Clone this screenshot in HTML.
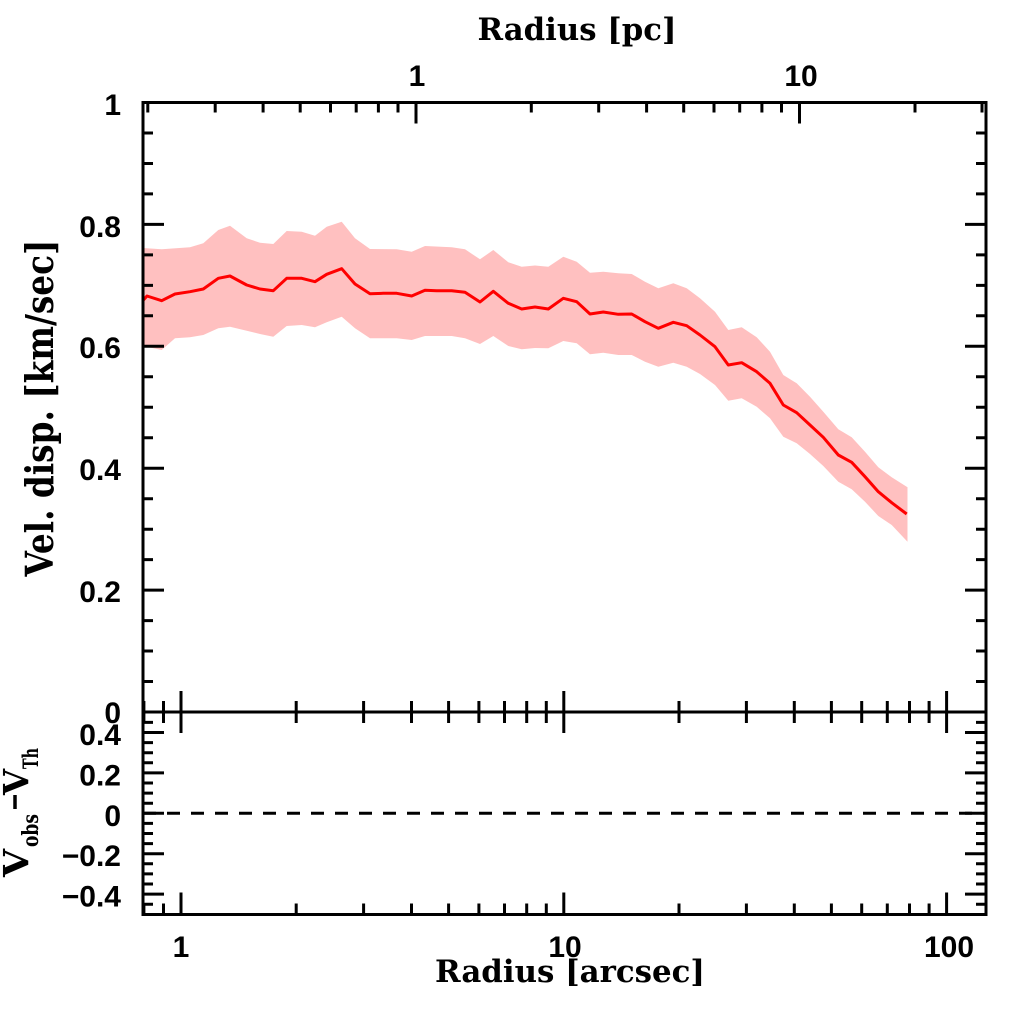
<!DOCTYPE html>
<html>
<head>
<meta charset="utf-8">
<style>
  html, body { margin: 0; padding: 0; background: #ffffff; }
  svg { display: block; }
  .num { font-family: "Liberation Sans", "DejaVu Sans", sans-serif; font-weight: bold; font-size: 30px; fill: #000; }
  .lab { font-family: "DejaVu Serif", "Liberation Serif", serif; font-weight: bold; fill: #000; }
</style>
</head>
<body>
<svg width="1024" height="1024" viewBox="0 0 1024 1024" xmlns="http://www.w3.org/2000/svg">
  <rect x="0" y="0" width="1024" height="1024" fill="#ffffff"/>

  <!-- error band -->
  <polygon fill="#ffc0c0" points="
143,248 146.7,248.3 161.7,249.3 190,247.3 203.3,243.3 218.3,230 230,225.7 246.7,238.3 260,242.7 273.3,244 286.7,231 301.7,231.7 315,235.7 326.7,226.7 341.7,221.7 355,238.3 370,249 396.7,249.3 411.7,251.7 425,246 451.7,247.3 465,249.3 480,259.3 493.3,250 508.3,262.3 521.7,266.7 535,265.5 548.3,266.7 563.3,256.7 576.7,261.7 590,272.7 603.3,271.7 618.3,273.3 631.7,274 645,281.7 658.3,288.3 673.3,283.3 686.7,288.3 700,298.3 715,311.7 728.3,330 741.7,327.3 756.7,337.3 770,351.7 783.3,375 796.7,383.3 810,396.7 823.3,411.7 838.3,429.3 851.7,437.3 865,451.7 878.3,467.3 891.7,477.3 907.5,487.3
907.5,541.7 891.7,525 878.3,516 865,501.7 851.7,489.3 838.3,481.7 823.3,466 810,454 796.7,443.3 783.3,436.7 770,418.3 756.7,406.7 741.7,398.3 728.3,400.7 715,385 700,374 686.7,366.7 673.3,362.7 658.3,366.7 645,361.7 631.7,355 618.3,355 603.3,352.7 590,354.3 576.7,343.3 563.3,341 548.3,348.3 535,348 521.7,349.3 508.3,346 493.3,336 480,344 465,338.3 451.7,336 425,336 411.7,340 396.7,338.3 370,338.3 355,328.3 341.7,316.7 326.7,322.3 315,327.3 301.7,325 286.7,326 273.3,336.7 260,334 246.7,330.7 230,326.7 218.3,328.3 203.3,335 190,337.3 175,338.3 161.7,350 146.7,346.7 143,346"/>

  <!-- data line -->
  <polyline fill="none" stroke="#ff0000" stroke-width="3" stroke-linejoin="round" points="
143,300.5 147,296 161.7,300.7 175,294 190,291.7 203.3,289 218.3,278.3 230,276 246.7,285 260,289 273.3,290.7 286.7,278.3 301.7,278.3 315,281.7 326.7,274.3 341.7,268.7 355,284 370,293.7 383.3,293.3 396.7,293.3 411.7,296 425,290.3 436.7,290.7 451.7,290.7 465,292.3 480,302 493.3,291.3 508.3,303.3 521.7,309 535,307 548.3,309 563.3,298.3 576.7,301.7 590,314 603.3,312 618.3,314.3 631.7,314 645,321.7 658.3,328.3 673.3,322.3 686.7,325.7 700,335 715,346.7 728.3,365 741.7,362.7 756.7,371.7 770,383.3 783.3,405 796.7,412.7 810,425 823.3,437.3 838.3,455 851.7,462.3 865,476.7 878.3,491.7 891.7,502.7 906.7,514"/>

  <!-- dashed zero line -->
  <line x1="143" y1="813.3" x2="986" y2="813.3" stroke="#000" stroke-width="3" stroke-dasharray="13 11"/>

  <!-- frames -->
  <g fill="none" stroke="#000" stroke-width="3">
    <rect x="143" y="102.5" width="843" height="812"/>
    <line x1="143" y1="712" x2="986" y2="712"/>
  </g>

  <!-- ticks -->
  <g stroke="#000" stroke-width="3" fill="none">
    <path d="M143 681.5h10 M143 651h10 M143 620.6h10 M143 559.6h10 M143 529.2h10 M143 498.7h10 M143 437.7h10 M143 407.3h10 M143 376.8h10 M143 315.8h10 M143 285.4h10 M143 254.9h10 M143 193.9h10 M143 163.5h10 M143 133h10"/>
    <path d="M986 681.5h-10 M986 651h-10 M986 620.6h-10 M986 559.6h-10 M986 529.2h-10 M986 498.7h-10 M986 437.7h-10 M986 407.3h-10 M986 376.8h-10 M986 315.8h-10 M986 285.4h-10 M986 254.9h-10 M986 193.9h-10 M986 163.5h-10 M986 133h-10"/>
    <path d="M143 712h21 M143 590.1h21 M143 468.2h21 M143 346.3h21 M143 224.4h21 M143 102.5h21"/>
    <path d="M986 712h-21 M986 590.1h-21 M986 468.2h-21 M986 346.3h-21 M986 224.4h-21 M986 102.5h-21"/>

    <path d="M143 722.4h10 M143 742.6h10 M143 752.7h10 M143 762.8h10 M143 783h10 M143 793.1h10 M143 803.2h10 M143 823.4h10 M143 833.5h10 M143 843.6h10 M143 863.8h10 M143 873.9h10 M143 884h10 M143 904.2h10"/>
    <path d="M986 722.4h-10 M986 742.6h-10 M986 752.7h-10 M986 762.8h-10 M986 783h-10 M986 793.1h-10 M986 803.2h-10 M986 823.4h-10 M986 833.5h-10 M986 843.6h-10 M986 863.8h-10 M986 873.9h-10 M986 884h-10 M986 904.2h-10"/>
    <path d="M143 732.5h21 M143 772.9h21 M143 813.3h21 M143 853.7h21 M143 894.1h21"/>
    <path d="M986 732.5h-21 M986 772.9h-21 M986 813.3h-21 M986 853.7h-21 M986 894.1h-21"/>

    <path d="M143.9 701v22 M163.5 701v22 M296.2 701v22 M363.6 701v22 M411.5 701v22 M448.6 701v22 M478.9 701v22 M504.5 701v22 M526.7 701v22 M546.3 701v22 M679 701v22 M746.4 701v22 M794.3 701v22 M831.4 701v22 M861.7 701v22 M887.3 701v22 M909.5 701v22 M929.1 701v22"/>
    <path d="M181 691v42 M563.8 691v42 M946.6 691v42"/>

    <path d="M143.9 914.5v-11 M163.5 914.5v-11 M296.2 914.5v-11 M363.6 914.5v-11 M411.5 914.5v-11 M448.6 914.5v-11 M478.9 914.5v-11 M504.5 914.5v-11 M526.7 914.5v-11 M546.3 914.5v-11 M679 914.5v-11 M746.4 914.5v-11 M794.3 914.5v-11 M831.4 914.5v-11 M861.7 914.5v-11 M887.3 914.5v-11 M909.5 914.5v-11 M929.1 914.5v-11"/>
    <path d="M181 914.5v-22 M563.8 914.5v-22 M946.6 914.5v-22"/>

    <path d="M147.8 102.5v10 M215.2 102.5v10 M263.1 102.5v10 M300.2 102.5v10 M330.5 102.5v10 M356.2 102.5v10 M378.4 102.5v10 M398 102.5v10 M531.3 102.5v10 M598.7 102.5v10 M646.6 102.5v10 M683.7 102.5v10 M714 102.5v10 M739.7 102.5v10 M761.9 102.5v10 M781.5 102.5v10 M915 102.5v10 M982 102.5v10"/>
    <path d="M416 102.5v21 M799.5 102.5v21"/>
  </g>

  <g class="num" text-anchor="end">
    <text x="121" y="115">1</text>
    <text x="121" y="237">0.8</text>
    <text x="121" y="358">0.6</text>
    <text x="121" y="480">0.4</text>
    <text x="121" y="602">0.2</text>
    <text x="121" y="723">0</text>
  </g>
  <g class="num" text-anchor="end">
    <text x="121" y="745">0.4</text>
    <text x="121" y="785.5">0.2</text>
    <text x="121" y="826">0</text>
    <text x="121" y="866">−0.2</text>
    <text x="121" y="906.5">−0.4</text>
  </g>

  <g class="num" text-anchor="middle">
    <text x="181" y="957">1</text>
    <text x="565" y="957">10</text>
    <text x="949" y="957">100</text>
    <text x="417" y="86">1</text>
    <text x="801" y="86">10</text>
  </g>

  <text class="lab" x="570" y="982" font-size="31" text-anchor="middle" textLength="270" lengthAdjust="spacingAndGlyphs">Radius [arcsec]</text>
  <text class="lab" x="577" y="40" font-size="31" text-anchor="middle" textLength="199" lengthAdjust="spacingAndGlyphs">Radius [pc]</text>
  <text class="lab" transform="translate(53,408) rotate(-90)" font-size="38" text-anchor="middle" textLength="337" lengthAdjust="spacingAndGlyphs">Vel. disp. [km/sec]</text>

  <g transform="translate(28,877) rotate(-90)" class="lab">
    <text x="0" y="0" font-size="35" textLength="28" lengthAdjust="spacingAndGlyphs">V</text>
    <text x="30" y="10" font-size="22" textLength="33" lengthAdjust="spacingAndGlyphs">obs</text>
    <text x="82" y="0" font-size="35" textLength="26" lengthAdjust="spacingAndGlyphs">V</text>
    <text x="108" y="10" font-size="21" textLength="21" lengthAdjust="spacingAndGlyphs">Th</text>
  </g>
  <line x1="15" y1="795" x2="15" y2="809" stroke="#000" stroke-width="3.5"/>
</svg>
</body>
</html>
